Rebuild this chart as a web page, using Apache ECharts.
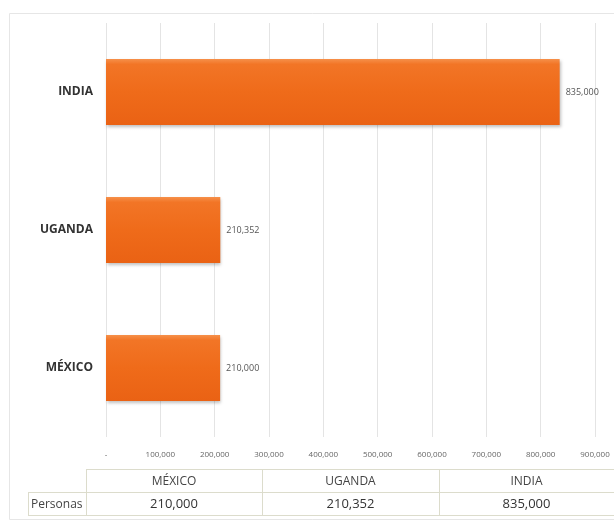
<!DOCTYPE html>
<html lang="es">
<head>
<meta charset="utf-8" />
<title>Personas</title>
<script src="https://cdn.jsdelivr.net/npm/echarts@6/dist/echarts.min.js"></script>
<style>
  html, body { margin: 0; padding: 0; background: #fff; }
  #main { width: 614px; height: 524px; }
</style>
</head>
<body>
<div id="main"></div>
<script>
    // datos
    var paises = ['MÉXICO', 'UGANDA', 'INDIA'];
    var personas = [210000, 210352, 835000];
    var rowName = 'Personas';
    var axisMax = 900000;
    var axisStep = 100000;

    var FONT = '"Open Sans", "Liberation Sans", sans-serif';

    function fmt(v) {
        if (v === 0) return '-';
        return v.toLocaleString('en-US');
    }

    var myChart = echarts.init(document.getElementById('main'));

    // tabla de datos debajo del grafico (como en Excel)
    var tblTop = 469, rowH = 23, colX = [86, 262, 439, 614], labelX = 28;
    var lineStyle = { stroke: '#dcdccc', lineWidth: 1 };
    var graphics = [
        { type: 'rect', shape: { x: 9.5, y: 13.5, width: 620, height: 506 },
          style: { fill: 'none', stroke: '#e6e6e6', lineWidth: 1 }, silent: true },
        { type: 'line', shape: { x1: colX[0], y1: tblTop + 0.5, x2: 614, y2: tblTop + 0.5 }, style: lineStyle },
        { type: 'line', shape: { x1: labelX, y1: tblTop + rowH + 0.5, x2: 614, y2: tblTop + rowH + 0.5 }, style: lineStyle },
        { type: 'line', shape: { x1: labelX, y1: tblTop + 2 * rowH + 0.5, x2: 614, y2: tblTop + 2 * rowH + 0.5 }, style: lineStyle },
        { type: 'line', shape: { x1: labelX + 0.5, y1: tblTop + rowH, x2: labelX + 0.5, y2: tblTop + 2 * rowH }, style: lineStyle },
        { type: 'text', x: labelX + 3, y: tblTop + rowH * 1.5 + 1,
          style: { text: rowName, font: '12px ' + FONT, fill: '#444', verticalAlign: 'middle' } }
    ];
    for (var i = 0; i < paises.length; i++) {
        graphics.push({ type: 'line', shape: { x1: colX[i] + 0.5, y1: tblTop, x2: colX[i] + 0.5, y2: tblTop + 2 * rowH }, style: lineStyle });
        var cx = (colX[i] + colX[i + 1]) / 2;
        graphics.push({ type: 'text', x: cx, y: tblTop + rowH / 2 + 1,
            style: { text: paises[i], font: '12px ' + FONT, fill: '#444', align: 'center', verticalAlign: 'middle' } });
        graphics.push({ type: 'text', x: cx, y: tblTop + rowH * 1.5 + 1,
            style: { text: fmt(personas[i]), font: '13px ' + FONT, fill: '#333', align: 'center', verticalAlign: 'middle' } });
    }

    var option = {
        backgroundColor: '#fff',
        animation: false,
        grid: { left: 106, right: 19, top: 23, bottom: 87 },
        xAxis: {
            type: 'value',
            min: 0,
            max: axisMax,
            interval: axisStep,
            axisLine: { show: false },
            axisTick: { show: false },
            splitLine: { lineStyle: { color: '#e4e4e4' } },
            axisLabel: {
                margin: 14,
                fontFamily: FONT,
                fontSize: 8,
                color: '#666',
                formatter: fmt
            }
        },
        yAxis: {
            type: 'category',
            data: paises,
            axisLine: { show: false },
            axisTick: { show: false },
            axisLabel: {
                margin: 13,
                fontFamily: FONT,
                fontSize: 12,
                fontWeight: 'bold',
                color: '#333'
            }
        },
        series: [{
            type: 'bar',
            data: personas,
            barWidth: 66,
            itemStyle: {
                color: new echarts.graphic.LinearGradient(0, 0, 0, 1, [
                    { offset: 0, color: '#f6904a' },
                    { offset: 0.08, color: '#f27526' },
                    { offset: 0.5, color: '#ef6b1a' },
                    { offset: 1, color: '#ea6214' }
                ]),
                shadowColor: 'rgba(0,0,0,0.25)',
                shadowBlur: 3,
                shadowOffsetX: 1,
                shadowOffsetY: 2
            },
            label: {
                show: true,
                position: 'right',
                distance: 6,
                fontFamily: FONT,
                fontSize: 9,
                color: '#555',
                formatter: function (p) { return fmt(p.value); }
            }
        }],
        graphic: graphics
    };

    myChart.setOption(option);
</script>
</body>
</html>
